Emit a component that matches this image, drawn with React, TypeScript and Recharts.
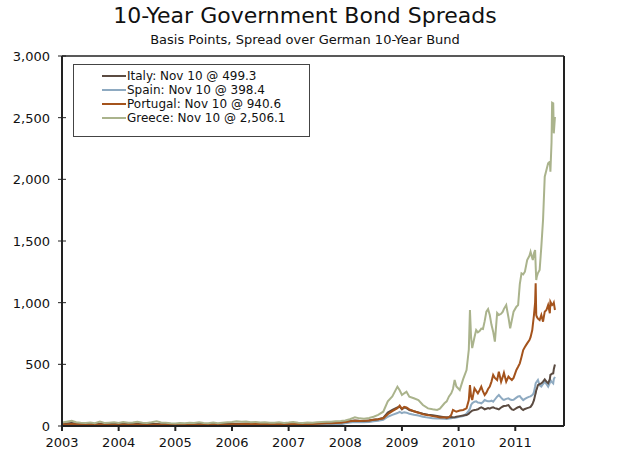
import { LineChart, Line, XAxis, YAxis, ReferenceLine } from 'recharts';

const dates = [
  2003.0, 2003.08, 2003.17, 2003.25, 2003.33, 2003.42, 2003.5, 2003.58, 2003.67, 2003.75, 2003.83, 2003.92,
  2004.0, 2004.08, 2004.17, 2004.25, 2004.33, 2004.42, 2004.5, 2004.58, 2004.67, 2004.75, 2004.83, 2004.92,
  2005.0, 2005.08, 2005.17, 2005.25, 2005.33, 2005.42, 2005.5, 2005.58, 2005.67, 2005.75, 2005.83, 2005.92,
  2006.0, 2006.08, 2006.17, 2006.25, 2006.33, 2006.42, 2006.5, 2006.58, 2006.67, 2006.75, 2006.83, 2006.92,
  2007.0, 2007.08, 2007.17, 2007.25, 2007.33, 2007.42, 2007.5, 2007.58, 2007.67, 2007.75, 2007.83, 2007.92,
  2008.0, 2008.08, 2008.17, 2008.25, 2008.33, 2008.42, 2008.5, 2008.58, 2008.67, 2008.75, 2008.83, 2008.92,
  2008.96, 2009.0, 2009.04, 2009.08, 2009.13, 2009.21, 2009.29, 2009.37, 2009.46, 2009.54, 2009.62, 2009.67,
  2009.75, 2009.79, 2009.83, 2009.87, 2009.9, 2009.93, 2009.96, 2010.02, 2010.08, 2010.14, 2010.18, 2010.2,
  2010.22, 2010.24, 2010.28, 2010.31, 2010.34, 2010.37, 2010.4, 2010.43, 2010.46, 2010.49, 2010.52, 2010.55,
  2010.58, 2010.61, 2010.64, 2010.68, 2010.71, 2010.75, 2010.78, 2010.8, 2010.84, 2010.88, 2010.91, 2010.94,
  2010.97, 2011.02, 2011.05, 2011.08, 2011.11, 2011.14, 2011.17, 2011.21, 2011.25, 2011.27, 2011.3, 2011.31,
  2011.33, 2011.35, 2011.36, 2011.37, 2011.38, 2011.4, 2011.43, 2011.46, 2011.49, 2011.52, 2011.55, 2011.58,
  2011.61, 2011.62, 2011.64, 2011.65, 2011.67, 2011.68, 2011.7,
];

const italy = [
  22, 20, 24, 21, 19, 20, 18, 17, 19, 18, 17, 16,
  18, 17, 16, 17, 18, 17, 16, 17, 16, 15, 16, 15,
  14, 15, 15, 16, 15, 17, 16, 15, 16, 15, 16, 17,
  18, 19, 18, 20, 19, 21, 20, 19, 20, 21, 20, 19,
  20, 21, 22, 21, 20, 22, 23, 25, 26, 27, 28, 30,
  35, 40, 45, 42, 40, 45, 50, 55, 65, 110, 130, 150,
  157, 135, 150, 145, 130, 120, 110, 100, 92, 88, 82, 78,
  72, 70, 70, 72, 70, 72, 75, 80, 85, 89, 100, 110,
  118, 125, 130, 132, 135, 145, 151, 145, 135, 140, 145, 140,
  148, 151, 145, 140, 135, 150, 158, 162, 165, 170, 150, 135,
  130, 145, 152, 157, 140, 130, 138, 145, 151, 155, 175, 185,
  210, 250, 265, 290, 300, 332, 340, 346, 360, 378, 360, 346,
  380, 414, 420, 425, 427, 460, 499.3,
];

const spain = [
  5, 4, 6, 5, 3, 4, 3, 2, 3, 2, 3, 2,
  2, 3, 2, 2, 3, 2, 2, 3, 2, 2, 2, 1,
  1, 2, 1, 2, 1, 2, 2, 1, 2, 2, 1, 2,
  2, 3, 2, 3, 3, 4, 3, 3, 4, 4, 3, 4,
  4, 5, 5, 4, 5, 6, 7, 9, 10, 11, 12, 14,
  22, 28, 32, 30, 30, 33, 38, 42, 50, 75, 90, 105,
  115, 105, 112, 108, 100, 92, 85, 75, 68, 62, 60, 60,
  58, 57, 60, 62, 70, 65, 68, 75, 81, 100, 125, 140,
  170, 184, 197, 200, 190, 188, 184, 195, 211, 205, 200, 200,
  205, 197, 215, 238, 251, 230, 215, 211, 220, 224, 215, 211,
  212, 230, 240, 243, 225, 210, 220, 230, 238, 240, 251, 255,
  275, 320, 346, 355, 360, 373, 330, 319, 340, 359, 340, 319,
  350, 373, 360, 355, 346, 380, 398.4,
];

const portugal = [
  14, 13, 16, 15, 14, 13, 12, 12, 13, 12, 11, 10,
  11, 12, 11, 12, 12, 11, 10, 11, 12, 10, 11, 10,
  9, 10, 10, 11, 10, 11, 12, 11, 12, 11, 12, 13,
  14, 15, 16, 17, 18, 17, 16, 17, 18, 17, 16, 17,
  16, 17, 16, 15, 16, 17, 18, 20, 22, 23, 24, 26,
  32, 38, 42, 40, 42, 45, 50, 55, 62, 95, 120, 145,
  165, 140, 155, 150, 135, 120, 108, 95, 88, 80, 75, 68,
  70, 65, 72, 90, 130, 122, 116, 125, 130, 143, 210, 332,
  240, 211, 306, 285, 265, 290, 319, 280, 251, 270, 300, 319,
  360, 414, 390, 373, 440, 359, 400, 432, 359, 400, 385, 373,
  390, 454, 480, 508, 560, 616, 640, 670, 697, 720, 778, 820,
  900, 1000, 1157, 900, 886, 870, 859, 900, 846, 927, 940, 981,
  914, 1008, 990, 981, 990, 1000, 940.6,
];

const greece = [
  28, 35, 42, 30, 26, 24, 28, 22, 36, 25, 27, 30,
  24, 33, 26, 28, 35, 26, 24, 30, 38, 28, 26, 22,
  20, 24, 22, 26, 24, 30, 25, 23, 28, 22, 26, 30,
  32, 38, 34, 36, 30, 33, 28, 30, 27, 26, 30, 25,
  28, 32, 27, 25, 28, 26, 30, 32, 35, 34, 38, 40,
  45, 55, 70, 62, 58, 65, 75, 90, 116, 200, 240, 319,
  290, 251, 265, 278, 238, 225, 211, 170, 143, 135, 130, 140,
  184, 200, 240, 265, 300, 373, 320, 292, 380, 454, 620, 940,
  720, 632, 720, 778, 760, 770, 790, 786, 850, 927, 948, 900,
  820, 765, 684, 916, 900, 910, 927, 950, 981, 880, 792, 860,
  927, 967, 980, 1150, 1238, 1230, 1251, 1346, 1380, 1413, 1360, 1346,
  1400, 1427, 1300, 1184, 1211, 1240, 1265, 1454, 1670, 2021, 2076, 2130,
  2143, 2062, 2300, 2621, 2616, 2373, 2506.1,
];

const legendLabels = [
  'Italy: Nov 10 @ 499.3',
  'Spain: Nov 10 @ 398.4',
  'Portugal: Nov 10 @ 940.6',
  'Greece: Nov 10 @ 2,506.1',
];
const colors = ['#5b4b41', '#8eaac1', '#a4531c', '#aab38c'];
const keys = ['italy', 'spain', 'portugal', 'greece'];

const yearTicks = [2003, 2004, 2005, 2006, 2007, 2008, 2009, 2010, 2011];
const valueTicks = [0, 500, 1000, 1500, 2000, 2500, 3000];

const data = dates.map((d, i) => ({
  x: d,
  italy: italy[i],
  spain: spain[i],
  portugal: portugal[i],
  greece: greece[i],
}));

const font = '"DejaVu Sans", Verdana, sans-serif';

function YTick(props: any) {
  const { x, y, payload, side } = props;
  const ax = side === 'left' ? x + 8 : x - 8;
  return (
    <g>
      <line x1={ax - 4} x2={ax + 4} y1={y} y2={y} stroke="#222" strokeWidth={1} />
      <text
        x={side === 'left' ? ax - 12 : ax + 8}
        y={y}
        dy={5}
        textAnchor={side === 'left' ? 'end' : 'start'}
        fontSize={13}
        fontFamily={font}
        fill="#111"
      >
        {payload.value.toLocaleString('en-US')}
      </text>
    </g>
  );
}

function LegendBox() {
  return (
    <div
      style={{
        position: 'absolute',
        left: 73,
        top: 64,
        border: '1px solid #444',
        width: 235,
        height: 67,
        boxSizing: 'content-box',
        fontFamily: font,
        fontSize: 12,
        color: '#111',
        paddingTop: 4,
        background: '#fff',
      }}
    >
      {legendLabels.map((label, i) => (
        <div key={label} style={{ display: 'flex', alignItems: 'center', height: 14, paddingLeft: 28 }}>
          <span style={{ display: 'inline-block', width: 24, height: 2, background: colors[i], marginRight: 1 }} />
          <span>{label}</span>
        </div>
      ))}
    </div>
  );
}

export default function App() {
  return (
    <div style={{ position: 'absolute', left: 0, top: 0, width: 624, height: 455, background: '#fff' }}>
      <div
        style={{
          position: 'absolute',
          left: 0,
          top: 3,
          width: 610,
          textAlign: 'center',
          fontFamily: font,
          fontSize: 22,
          lineHeight: '26px',
          color: '#111',
        }}
      >
        10-Year Government Bond Spreads
      </div>
      <div
        style={{
          position: 'absolute',
          left: 0,
          top: 32,
          width: 610,
          textAlign: 'center',
          fontFamily: font,
          fontSize: 13,
          lineHeight: '15px',
          color: '#111',
        }}
      >
        Basis Points, Spread over German 10-Year Bund
      </div>
      <LineChart
        width={624}
        height={455}
        data={data}
        margin={{ top: 56, right: 8, bottom: 5, left: 8 }}
        style={{ position: 'absolute', left: 0, top: 0 }}
      >
        <XAxis
          dataKey="x"
          type="number"
          domain={[2003, 2011.86]}
          ticks={yearTicks}
          allowDataOverflow
          tickFormatter={(v: number) => String(Math.round(v))}
          stroke="#222"
          strokeWidth={2}
          tickSize={5}
          tickMargin={7}
          height={24}
          tick={{ fontSize: 13, fontFamily: font, fill: '#111' }}
        />
        <YAxis
          yAxisId="left"
          orientation="left"
          domain={[0, 3000]}
          ticks={valueTicks}
          width={54}
          stroke="#222"
          strokeWidth={2}
          tickLine={false}
          tickSize={6}
          tickMargin={2}
          tick={<YTick side="left" />}
        />
        <YAxis
          yAxisId="right"
          orientation="right"
          domain={[0, 3000]}
          ticks={valueTicks}
          width={52}
          stroke="#222"
          strokeWidth={2}
          tickLine={false}
          tickSize={6}
          tickMargin={2}
          tick={<YTick side="right" />}
        />
        <ReferenceLine yAxisId="left" y={3000} stroke="#222" strokeWidth={1.5} />
        {[1, 0, 2, 3].map((i) => (
          <Line
            key={keys[i]}
            yAxisId="left"
            dataKey={keys[i]}
            stroke={colors[i]}
            strokeWidth={2}
            dot={false}
            type="linear"
            isAnimationActive={false}
          />
        ))}
      </LineChart>
      <LegendBox />
    </div>
  );
}
